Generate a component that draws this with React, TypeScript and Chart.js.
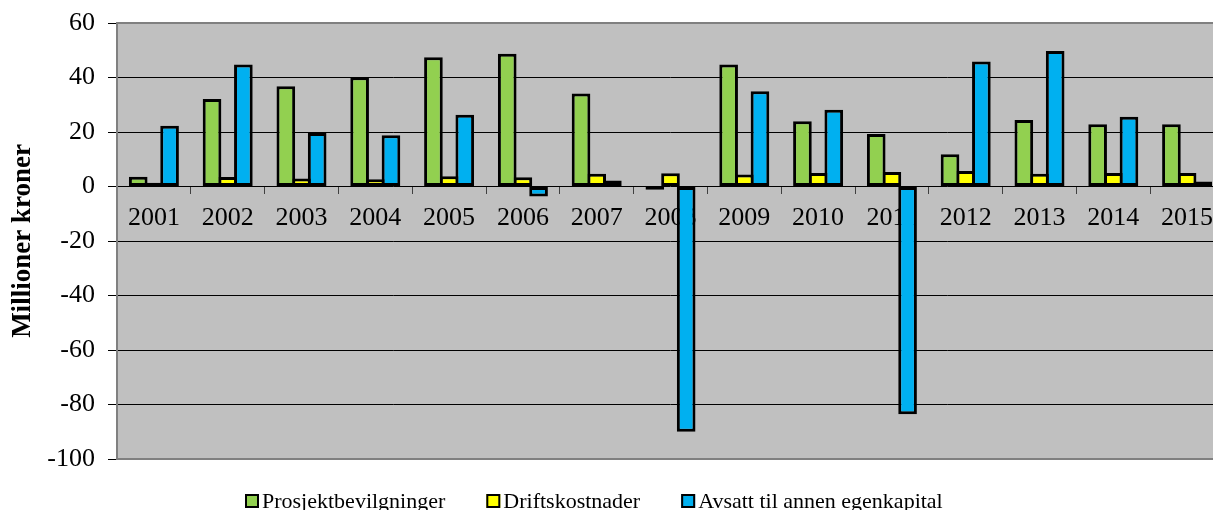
import React, { useEffect, useRef } from "react";
import { Chart, registerables } from "chart.js";

Chart.register(...registerables);

const years = ["2001", "2002", "2003", "2004", "2005", "2006", "2007", "2008", "2009", "2010", "2011", "2012", "2013", "2014", "2015"];
const prosjektbevilgninger = [3.6, 32.1, 36.8, 40.1, 47.4, 48.7, 34.1, -1.2, 44.8, 23.9, 19.3, 11.8, 24.4, 22.8, 22.8];
const driftskostnader = [1.4, 3.5, 2.9, 2.7, 3.8, 3.4, 4.7, 4.9, 4.4, 5.0, 5.3, 5.7, 4.7, 5.0, 5.0];
const avsatt = [22.3, 44.8, 19.6, 18.8, 26.3, -3.7, 2.2, -90.0, 35.0, 28.2, -83.6, 45.9, 49.7, 25.6, 1.8];

const seriesNames = ["Prosjektbevilgninger", "Driftskostnader", "Avsatt til annen egenkapital"];
const seriesColors = ["#92D050", "#FFFF00", "#00B0F0"];
const yMin = -100;
const yMax = 60;
const yStep = 20;
const yTitle = "Millioner kroner";

const FONT = "'Liberation Serif', 'Times New Roman', serif";

const plotBackground = {
  id: "plotBackground",
  beforeDraw(chart: any) {
    const { ctx, chartArea } = chart;
    ctx.save();
    ctx.fillStyle = "#C0C0C0";
    ctx.fillRect(chartArea.left, chartArea.top, chartArea.right - chartArea.left, chartArea.bottom - chartArea.top);
    ctx.restore();
  },
};

const plotBorder = {
  id: "plotBorder",
  afterDatasetsDraw(chart: any) {
    const { ctx, chartArea } = chart;
    ctx.save();
    ctx.strokeStyle = "#808080";
    ctx.lineWidth = 2;
    ctx.strokeRect(chartArea.left, chartArea.top, chartArea.right - chartArea.left, chartArea.bottom - chartArea.top);
    ctx.restore();
  },
};

const customLegend = {
  id: "customLegend",
  afterDraw(chart: any) {
    const ctx = chart.ctx;
    ctx.save();
    ctx.font = `22px ${FONT}`;
    ctx.textBaseline = "alphabetic";
    ctx.textAlign = "left";
    let x = 245;
    chart.data.datasets.forEach((ds: any) => {
      ctx.fillStyle = ds.backgroundColor;
      ctx.fillRect(x, 494, 14, 14);
      ctx.strokeStyle = "#000";
      ctx.lineWidth = 2;
      ctx.strokeRect(x + 1, 495, 12, 12);
      ctx.fillStyle = "#000";
      ctx.fillText(ds.label, x + 17, 508);
      x += 17 + ctx.measureText(ds.label).width + 41;
    });
    ctx.restore();
  },
};

export default function App() {
  const canvasRef = useRef<HTMLCanvasElement | null>(null);

  useEffect(() => {
    if (!canvasRef.current) return;
    const values = [prosjektbevilgninger, driftskostnader, avsatt];
    const chart = new Chart(canvasRef.current, {
      type: "bar",
      data: {
        labels: years,
        datasets: values.map((v, i) => ({
          label: seriesNames[i],
          data: v,
          backgroundColor: seriesColors[i],
          borderColor: "#000",
          borderWidth: 3,
          borderSkipped: false,
          categoryPercentage: 0.637,
          barPercentage: 1.19,
        })),
      },
      options: {
        responsive: false,
        animation: false,
        layout: { padding: { left: 0, top: 23, right: 16, bottom: 51 } },
        plugins: { legend: { display: false }, tooltip: { enabled: false } },
        scales: {
          x: {
            position: { y: 0 } as any,
            offset: true,
            grid: {
              display: true,
              drawOnChartArea: false,
              drawTicks: true,
              tickLength: 7,
              color: "#404040",
              offset: true,
            },
            border: { display: false },
            ticks: {
              font: { family: FONT, size: 26 },
              color: "#000",
              padding: 9,
              maxRotation: 0,
              autoSkip: false,
            },
            afterFit: (s: any) => {
              s.height = 0;
            },
          },
          y: {
            min: yMin,
            max: yMax,
            ticks: {
              stepSize: yStep,
              font: { family: FONT, size: 26 },
              color: "#000",
              padding: 13,
              callback: (v: any) => String(v),
            },
            grid: { color: "#000", lineWidth: 1, tickLength: 9 },
            border: { display: false },
            title: {
              display: true,
              text: yTitle,
              font: { family: FONT, size: 27, weight: "bold" },
              color: "#000",
              padding: { top: 7, bottom: 0 },
            },
            afterFit: (s: any) => {
              s.width = 117;
              s.paddingTop = 0;
              s.paddingBottom = 0;
            },
          },
        },
      },
      plugins: [plotBackground, plotBorder, customLegend],
    });
    return () => chart.destroy();
  }, []);

  return (
    <div style={{ position: "fixed", left: 0, top: 0, width: 1213, height: 510, overflow: "hidden", background: "#fff" }}>
      <canvas ref={canvasRef} width={1240} height={510} style={{ display: "block" }} />
    </div>
  );
}
